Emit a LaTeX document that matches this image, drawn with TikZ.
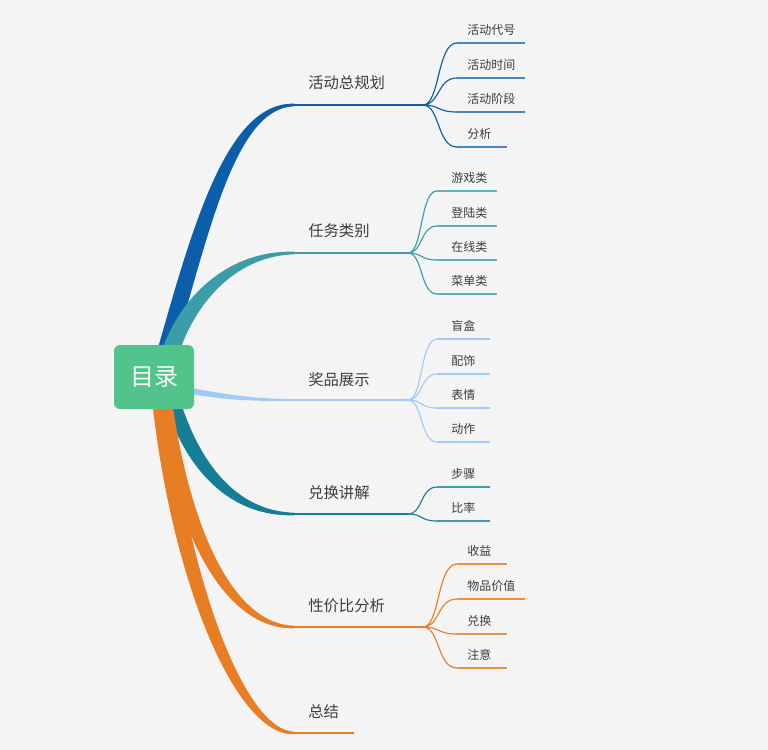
\documentclass[tikz,border=0pt]{standalone}
\usepackage{fontspec}
\newfontfamily\cjk{Noto Sans CJK SC}
\usetikzlibrary{calc}
\definecolor{bg}{HTML}{F4F4F4}
\definecolor{txt}{HTML}{3D3D3D}
\definecolor{cRoot}{RGB}{82,195,139}
\definecolor{cBlue}{RGB}{10,94,171}
\definecolor{cTeal}{RGB}{58,157,168}
\definecolor{cLight}{RGB}{160,203,249}
\definecolor{cDark}{RGB}{21,126,151}
\definecolor{cOrange}{RGB}{232,126,36}
\tikzset{
  topic/.style={font=\cjk\fontsize{11.5}{14}\selectfont, text=txt, anchor=west, inner sep=0pt},
  leaf/.style={font=\cjk\fontsize{9}{11}\selectfont, text=txt, anchor=west, inner sep=0pt},
  uthick/.style={line width=2.2pt},
  uthin/.style={line width=1.1pt},
  twig/.style={line width=0.85pt},
  rootbox/.style={fill=cRoot, rounded corners=4.5pt, minimum width=60pt, minimum height=48pt,
    inner sep=0pt, text=white, font=\cjk\fontsize{18}{21}\selectfont}
}
\begin{document}
\begin{tikzpicture}[x=0.75pt,y=-0.75pt]
\fill[bg] (0,0) rectangle (768,750);
\useasboundingbox (0,0) rectangle (768,750);

% anchor coordinates
\coordinate (R) at (154,377);
\coordinate (u1s) at (294,105); \coordinate (u1m) at (402,105); \coordinate (j1) at (423,105);
\coordinate (u2s) at (294,253); \coordinate (u2m) at (387,253); \coordinate (j2) at (408,253);
\coordinate (u3s) at (294,400); \coordinate (u3m) at (387,400); \coordinate (j3) at (408,400);
\coordinate (u4s) at (294,514); \coordinate (u4m) at (387,514); \coordinate (j4) at (408,514);
\coordinate (u5s) at (294,627); \coordinate (u5m) at (402,627); \coordinate (j5) at (423,627);
\coordinate (u6s) at (294,733); \coordinate (u6e) at (354,733);

% tapered main branches
\fill[cBlue] ($(R)+(2,-22)$) .. controls (192,229) and (226,102) .. ($(u1s)+(0,-1.3)$)
  -- ($(u1s)+(0,1.3)$) .. controls (235,108) and (209,233) .. ($(R)+(19,-22)$) -- cycle;
\fill[cTeal] ($(R)+(8,-27)$) .. controls (183,291) and (233,250) .. ($(u2s)+(0,-1.3)$)
  -- ($(u2s)+(0,1.3)$) .. controls (238,256) and (198,299) .. ($(R)+(26,-27)$) -- cycle;
\fill[cLight] ($(R)+(31,9.8)$) .. controls (230,395.3) and (255,398.8) .. ($(u3s)+(0,-0.9)$)
  -- ($(u3s)+(0,0.9)$) .. controls (255,401.2) and (230,400.7) .. ($(R)+(31,16.2)$) -- cycle;
\fill[cDark] ($(R)+(26,23)$) .. controls (199,461) and (235,511) .. ($(u4s)+(0,-1.3)$)
  -- ($(u4s)+(0,1.3)$) .. controls (229,517) and (185,469) .. ($(R)+(10,23)$) -- cycle;
\fill[cOrange] ($(R)+(14,23)$) .. controls (188,577) and (244,730) .. ($(u6s)+(0,-1.3)$)
  -- ($(u6s)+(0,1.3)$) .. controls (236,736) and (172,583) .. ($(R)+(-2,23)$) -- cycle;
\fill[cOrange] ($(R)+(18,23)$) .. controls (188,517) and (229,624) .. ($(u5s)+(0,-1.3)$)
  -- ($(u5s)+(0,1.3)$) .. controls (221,630) and (172,523) .. ($(R)+(2,23)$) -- cycle;

% root
\node[rootbox] (root) at (R) {目录};

% topics
\node[topic] (t1) at (308,83) {活动总规划};
\node[topic] (t2) at (308,231) {任务类别};
\node[topic] (t3) at (308,380) {奖品展示};
\node[topic] (t4) at (308,493) {兑换讲解};
\node[topic] (t5) at (308,606) {性价比分析};
\node[topic] (t6) at (308,712) {总结};

% underlines
\draw[uthick, cBlue] (u1s) -- (u1m); \draw[uthin, cBlue] (u1m) -- (j1);
\draw[uthick, cTeal] (u2s) -- (u2m); \draw[uthin, cTeal] (u2m) -- (j2);
\draw[uthick, cLight] (u3s) -- (u3m); \draw[uthin, cLight] (u3m) -- (j3);
\draw[uthick, cDark] (u4s) -- (u4m); \draw[uthin, cDark] (u4m) -- (j4);
\draw[uthick, cOrange] (u5s) -- (u5m); \draw[uthin, cOrange] (u5m) -- (j5);
\draw[uthick, cOrange] (u6s) -- (u6e);

% leaves of 活动总规划
\foreach \n/\y/\e/\t in {a/43/525/活动代号, b/78/525/活动时间, c/112/525/活动阶段, d/147/507/分析} {
  \coordinate (s1\n) at (457,\y); \coordinate (e1\n) at (\e,\y);
  \node[leaf] (l1\n) at (467,\y-13) {\t};
  \draw[twig, cBlue] (j1) .. controls +(17,0) and +(-20,0) .. (s1\n);
  \draw[twig, cBlue!75!white] (s1\n) -- (e1\n);
}
% leaves of 任务类别
\foreach \n/\y/\t in {a/191/游戏类, b/226/登陆类, c/260/在线类, d/294/菜单类} {
  \coordinate (s2\n) at (437,\y); \coordinate (e2\n) at (497,\y);
  \node[leaf] (l2\n) at (451,\y-13) {\t};
  \draw[twig, cTeal] (j2) .. controls +(15,0) and +(-17,0) .. (s2\n);
  \draw[twig, cTeal!80!white] (s2\n) -- (e2\n);
}
% leaves of 奖品展示
\foreach \n/\y/\t in {a/339/盲盒, b/374/配饰, c/408/表情, d/442/动作} {
  \coordinate (s3\n) at (437,\y); \coordinate (e3\n) at (490,\y);
  \node[leaf] (l3\n) at (451,\y-13) {\t};
  \draw[twig, cLight] (j3) .. controls +(15,0) and +(-17,0) .. (s3\n);
  \draw[twig, cLight] (s3\n) -- (e3\n);
}
% leaves of 兑换讲解
\foreach \n/\y/\t in {a/487/步骤, b/521/比率} {
  \coordinate (s4\n) at (437,\y); \coordinate (e4\n) at (490,\y);
  \node[leaf] (l4\n) at (451,\y-13) {\t};
  \draw[twig, cDark] (j4) .. controls +(15,0) and +(-17,0) .. (s4\n);
  \draw[twig, cDark!80!white] (s4\n) -- (e4\n);
}
% leaves of 性价比分析
\foreach \n/\y/\e/\t in {a/564/507/收益, b/599/525/物品价值, c/634/507/兑换, d/668/507/注意} {
  \coordinate (s5\n) at (457,\y); \coordinate (e5\n) at (\e,\y);
  \node[leaf] (l5\n) at (467,\y-13) {\t};
  \draw[twig, cOrange] (j5) .. controls +(17,0) and +(-20,0) .. (s5\n);
  \draw[twig, cOrange!85!white] (s5\n) -- (e5\n);
}
\end{tikzpicture}
\end{document}
